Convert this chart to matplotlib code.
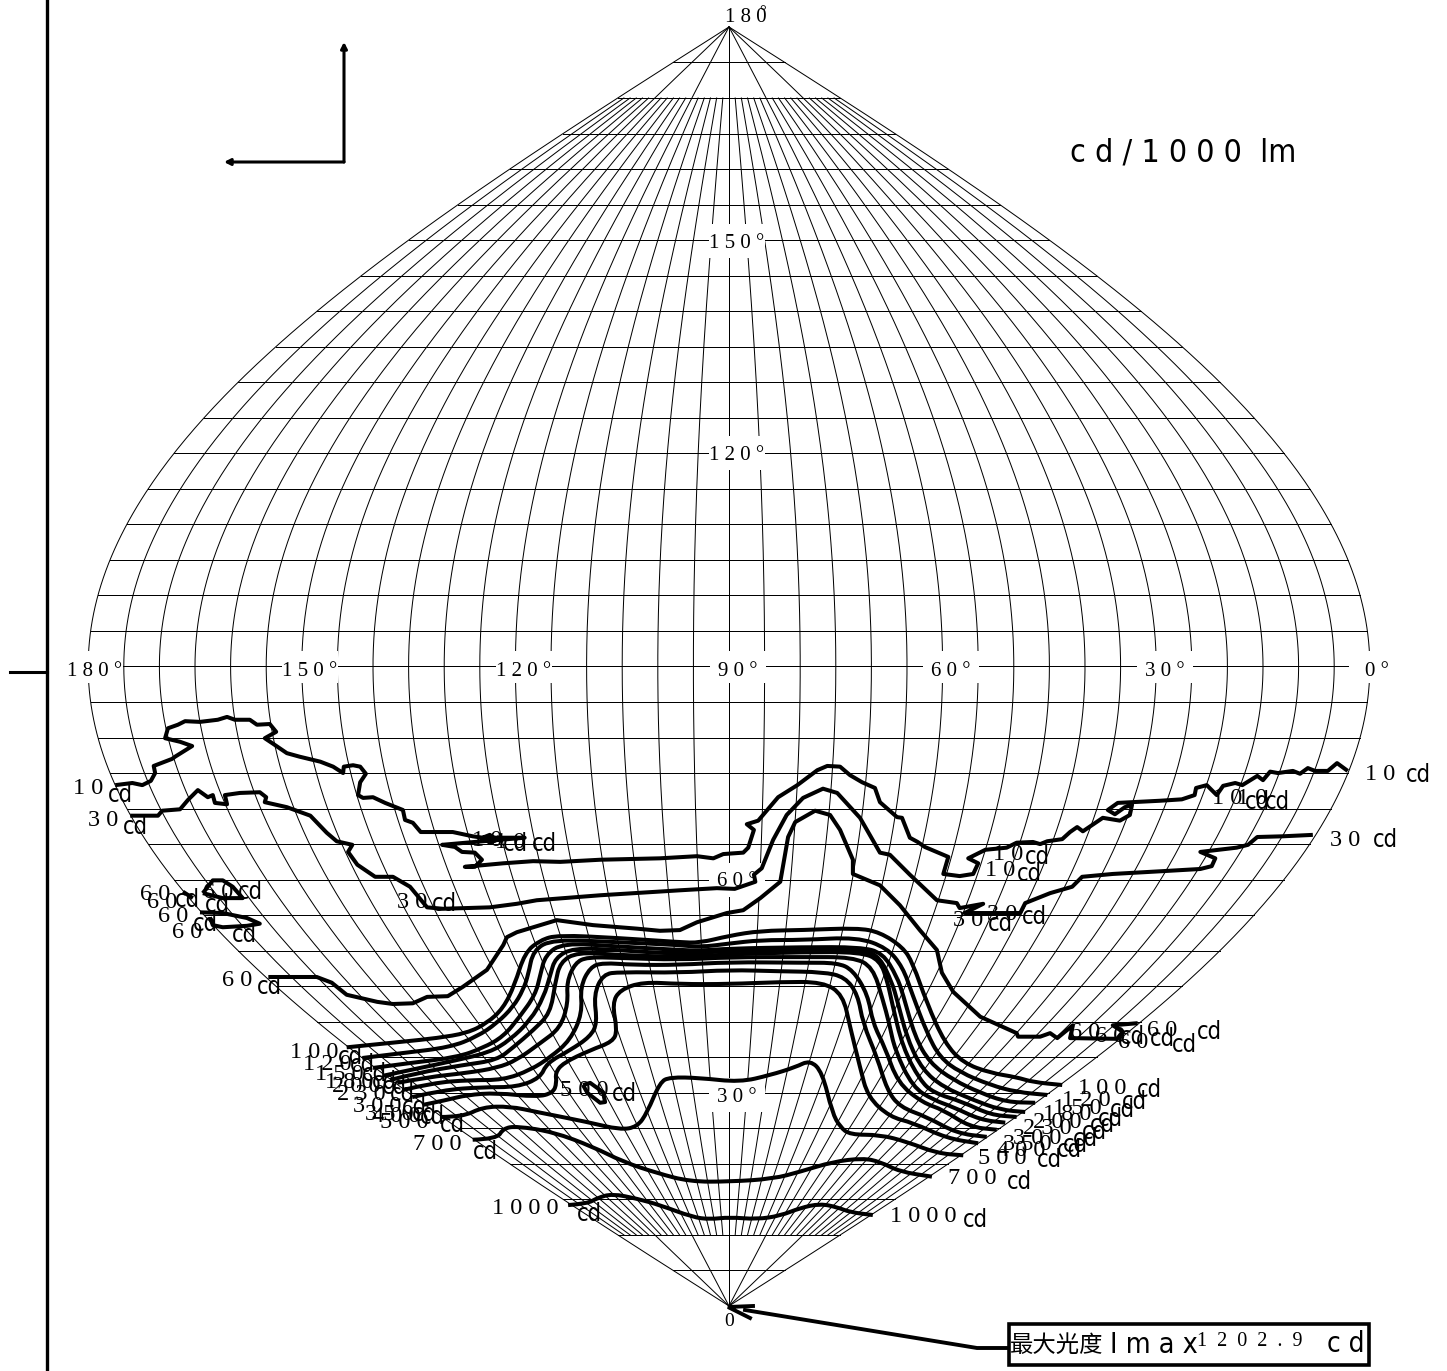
import numpy as np
import matplotlib
matplotlib.use("Agg")
import matplotlib.pyplot as plt
from matplotlib.patches import PathPatch, Rectangle
from matplotlib.path import Path
from matplotlib.transforms import Affine2D

# isocandela lines: x = map position in degrees from the
# centre meridian, g = vertical angle gamma in degrees
c10_x = [-86.2,-83.8,-82.4,-81.2,-80.6,-80.8,-78.2,-77.8,-75.4,-77.1,-79.2,-78.8,-77.4,-76.4,-74.3,-71.8,-70.5,-69.4,-67.3,-66.3,-64.5,-63.6,-65.2,-64.0,-62.1,-60.3,-57.4,-55.6,-54.2,-54.1,-52.8,-51.8,-51.0,-51.8,-52.1,-51.4,-50.0,-48.3,-45.8,-45.5,-44.4,-43.3,-38.8,-36.0,-34.6,-33.6,-32.6,-33.6,-34.6,-28.7,-34.6,-40.3,-38.5,-37.5,-35.7,-34.7,-35.7,-37.1,-31.7,-27.5,-23.7,-18.1,-9.7,-4.5,-2.2,-0.8,2.0,2.7,3.5,2.5,4.1,6.9,9.6,12.4,13.8,15.6,17.0,18.7,20.5,21.2,23.6,24.3,25.4,26.5,27.5,30.8,30.1,32.4,34.3,35.0,33.6,36.0,39.0,40.4,42.7,43.7,44.7,46.8,47.9,48.9,49.7,52.5,54.9,56.3,56.6,55.6,54.2,53.2,54.6,60.5,63.6,65.4,65.6,67.1,68.5,69.4,71.1,72.1,74.2,75.0,76.0,77.1,79.2,80.2,81.3,82.3,84.1,85.4,86.9]
c10_g = [73.3,73.6,73.3,73.9,75.0,76.0,77.0,77.3,78.8,79.4,79.9,81.3,81.8,82.3,82.2,82.5,82.9,82.5,82.5,81.8,81.9,80.8,79.9,79.1,77.8,77.3,76.6,75.9,75.0,75.9,76.1,75.9,74.9,73.7,71.9,71.5,71.6,70.8,69.8,68.4,68.0,66.7,66.7,66.1,65.9,66.3,65.6,65.2,65.9,65.9,65.4,64.9,64.6,63.9,63.8,62.8,61.8,61.8,62.3,62.6,62.5,62.8,63.0,63.3,63.0,63.6,63.8,64.5,67.0,67.8,68.3,71.6,73.3,75.4,76.0,75.9,74.7,73.7,72.9,70.9,68.8,68.7,65.9,65.3,64.6,63.2,60.8,60.5,60.8,62.3,63.0,64.2,64.5,65.2,65.3,65.0,65.4,65.7,66.7,67.4,66.8,68.7,68.3,69.1,70.5,70.2,69.2,69.8,70.8,71.1,71.3,71.9,72.9,73.3,71.9,73.2,73.6,73.3,74.6,74.0,75.2,75.0,75.3,74.9,75.7,75.3,75.3,76.4,75.3]

c30_x = [-84.1,-80.2,-79.6,-77.1,-76.0,-74.6,-73.2,-72.5,-72.2,-70.5,-70.8,-68.7,-65.9,-65.0,-65.2,-62.1,-58.8,-56.5,-55.1,-52.9,-53.5,-52.2,-49.7,-47.2,-44.8,-42.4,-40.2,-33.6,-29.8,-27.0,-18.1,-6.9,-1.7,0.8,3.7,3.5,4.6,6.2,8.1,10.4,13.2,15.2,18.4,21.2,22.6,25.4,29.2,32.0,32.4,35.7,33.1,40.9,41.6,45.1,48.2,49.6,53.9,61.0,66.2,67.8,68.3,66.2,71.3,72.9,74.2,77.8,82.0]
c30_g = [69.0,69.0,69.7,69.9,71.2,72.6,71.6,71.9,70.8,70.6,71.9,72.2,72.3,71.6,70.9,70.2,69.0,66.6,65.4,64.9,63.9,62.1,60.4,60.4,59.0,56.1,55.9,56.1,56.6,57.1,57.8,58.5,58.8,58.7,59.7,60.7,61.6,65.6,69.1,71.5,72.8,72.2,68.7,63.8,63.5,60.7,57.1,56.7,56.0,56.6,55.3,55.3,56.7,58.1,59.0,60.4,60.8,61.2,61.5,61.9,63.0,63.9,64.5,64.9,66.0,66.1,66.3]

c60_x = [-64.7,-57.9,-55.8,-53.7,-49.4,-47.2,-44.4,-42.4,-39.5,-37.4,-34.0,-31.7,-31.2,-29.8,-24.2,-19.1,-12.9,-9.7,-6.9,-4.5,-0.3,2.0,4.4,7.2,8.3,9.3,12.1,14.2,15.6,17.4,17.4,21.2,24.0,26.8,29.2,29.9,31.5,35.3,40.4,40.6,43.7,45.1,46.1,48.3,47.9,54.5,55.3,53.9,57.4]
c60_g = [46.3,46.3,45.5,43.8,42.8,42.5,42.6,43.5,43.6,44.9,47.3,50.8,51.9,52.6,54.3,53.6,53.1,52.8,52.9,54.0,55.3,55.7,57.4,59.7,66.0,68.1,69.7,69.1,67.0,62.8,60.8,59.2,56.4,52.9,50.1,46.9,44.2,40.7,38.4,37.9,37.9,38.4,37.7,39.5,37.7,37.6,38.6,39.5,39.8]
c60_loop_a_x = [-76.7,-75.3]
c60_loop_a_g = [58.3,57.4]
c60_loop_b_x = [-73.9,-72.5,-71.1,-69.7,-68.3,-71.1,-73.9]
c60_loop_b_g = [58.1,59.9,59.9,59.0,57.4,57.4,58.1]
c60_loop_c_x = [-74.3,-71.1,-67.7,-65.9,-67.7,-71.1,-72.5,-72.9]
c60_loop_c_g = [55.4,55.3,54.6,53.8,53.5,53.3,53.6,54.7]

c100_x = [-53.7,-45.8,-41.0,-36.8,-34.0,-31.7,-30.1,-28.7,-26.5,-24.0,-15.7,-6.9,-4.1,0.0,4.4,10.4,18.0,21.2,24.4,25.8,27.8,30.3,32.9,36.7,40.4,42.7,46.8]
c100_g = [36.4,37.2,37.7,38.4,39.8,41.9,45.2,49.7,51.5,52.2,51.8,51.2,51.1,52.1,52.8,52.9,53.2,52.6,50.5,48.3,42.6,37.0,34.2,32.8,32.2,31.5,31.1]
c120_x = [-51.5,-45.8,-39.2,-35.4,-32.6,-30.3,-28.9,-28.2,-27.5,-24.7,-15.7,-6.9,-4.1,0.0,4.4,10.4,18.0,22.2,24.4,25.7,27.8,29.6,32.4,36.7,40.4,44.7]
c120_g = [34.9,35.6,36.4,37.9,39.8,42.1,44.5,46.6,50.1,51.6,51.2,50.8,50.5,51.0,51.5,51.5,51.9,50.4,47.7,44.0,38.4,35.0,32.9,31.1,30.1,29.7]
c150_x = [-50.0,-44.8,-38.2,-34.6,-31.7,-29.4,-27.2,-26.5,-25.8,-23.3,-15.7,-6.9,-4.1,0.0,10.4,18.4,21.6,23.6,24.4,26.1,28.2,31.5,35.3,39.0,43.0]
c150_g = [33.5,34.2,35.0,36.3,37.9,40.7,43.8,46.6,49.4,51.1,50.6,50.1,50.0,50.3,50.5,50.5,49.7,46.3,44.0,37.9,34.2,31.8,30.0,28.7,28.6]
c180_x = [-48.6,-44.8,-38.2,-33.6,-30.8,-27.9,-26.0,-25.1,-24.4,-21.9,-15.7,-6.9,0.0,10.4,18.8,21.2,22.9,23.6,25.1,27.2,30.1,34.3,38.1,41.6]
c180_g = [32.4,33.2,34.6,35.7,37.4,40.2,43.5,46.6,49.0,50.4,50.1,49.5,50.0,50.1,50.2,49.1,45.5,43.1,37.4,33.2,30.8,29.0,27.6,27.3]
c200_x = [-47.6,-43.8,-37.4,-32.6,-30.3,-27.5,-25.1,-24.4,-23.7,-21.3,-15.7,-6.9,0.0,10.4,18.4,21.2,22.3,22.9,24.4,26.8,28.7,32.9,36.7,40.4]
c200_g = [31.8,32.8,33.9,34.6,36.4,38.8,41.2,45.5,48.4,49.8,49.4,49.1,49.5,49.8,49.8,48.7,45.5,42.6,36.4,31.8,30.0,28.7,26.9,26.6]
c230_x = [-46.6,-42.4,-36.8,-32.6,-29.8,-26.5,-23.7,-22.6,-22.8,-21.6,-19.9,-15.7,-6.9,0.0,10.4,17.4,20.2,21.6,22.5,23.3,25.8,28.7,31.5,35.3,38.8]
c230_g = [31.4,32.2,32.8,33.5,34.6,37.0,39.1,42.6,45.6,48.3,49.1,49.0,48.7,49.1,49.1,49.1,47.7,43.1,39.8,36.0,30.8,29.0,28.0,26.2,25.8]
c300_x = [-45.8,-41.6,-36.4,-31.7,-27.9,-25.1,-22.3,-20.6,-20.9,-19.5,-17.7,-13.5,-6.9,0.0,10.4,15.2,17.4,19.5,20.2,21.9,23.7,27.2,30.1,33.8,37.6]
c300_g = [30.4,31.4,31.8,31.8,33.2,35.0,37.4,41.2,44.9,47.7,48.3,48.0,48.0,48.4,48.3,48.3,47.3,43.8,39.8,36.4,31.4,28.6,27.6,25.2,24.8]
c350_x = [-44.5,-40.2,-34.6,-29.8,-26.5,-25.6,-22.3,-19.5,-18.5,-19.0,-17.7,-15.3,-6.9,0.0,7.2,13.2,16.3,18.1,18.8,20.8,22.2,24.0,27.8,32.0,36.2]
c350_g = [29.4,30.4,30.8,30.8,32.1,34.2,36.0,37.9,39.8,43.8,46.7,47.0,46.9,47.3,47.1,47.0,46.3,43.8,39.8,35.0,30.4,28.0,26.6,24.3,23.8]
c400_x = [-43.0,-39.6,-36.8,-32.6,-27.0,-24.7,-24.2,-24.4,-23.3,-19.5,-16.3,-15.7,-16.4,-15.3,-12.1,-6.9,0.0,7.2,13.2,16.0,17.0,18.4,19.5,22.6,25.8,30.6,35.0]
c400_g = [28.3,29.0,29.7,30.0,29.4,30.0,31.4,32.8,34.2,36.0,37.2,38.8,42.6,44.5,45.6,45.3,45.3,45.6,45.6,43.8,39.3,33.6,29.4,26.6,25.8,23.6,22.9]

c500_x = [-40.6,-37.4,-34.6,-30.8,-27.0,-19.9,-15.3,-12.9,-11.5,-9.7,-8.3,-4.1,1.5,5.8,9.3,11.4,13.1,14.5,15.6,17.0,21.2,25.0,29.2,32.9]
c500_g = [26.6,26.6,28.0,28.1,27.3,25.9,24.8,25.2,27.2,31.5,32.2,32.1,31.5,32.5,33.6,34.6,32.9,27.2,25.2,24.1,24.1,23.1,21.5,21.2]
c500_loop_x = [-20.5,-19.5,-17.7,-17.4,-18.1,-19.9,-20.5]
c500_loop_g = [31.1,31.4,30.1,28.7,28.6,30.0,31.1]
c700_x = [-36.0,-32.6,-31.7,-29.8,-24.7,-19.1,-14.9,-10.1,-5.5,0.1,6.2,10.0,14.6,18.8,21.2,24.0,28.5]
c700_g = [23.4,23.5,25.0,25.3,24.5,22.4,20.3,18.7,17.5,17.5,17.9,18.9,20.3,20.8,20.3,18.9,18.2]
c1000_x = [-22.6,-19.9,-18.5,-16.4,-12.9,-9.7,-5.1,-2.7,0.1,3.9,7.2,10.0,12.8,15.2,17.0,20.2]
c1000_g = [14.2,14.4,15.2,15.8,15.1,14.2,12.5,12.2,12.5,12.2,12.7,13.8,14.4,13.9,13.2,12.8]

jagged_lines = [
    (c10_x, c10_g), (c30_x, c30_g), (c60_x, c60_g),
    (c60_loop_a_x, c60_loop_a_g), (c60_loop_b_x, c60_loop_b_g), (c60_loop_c_x, c60_loop_c_g),
    (c500_loop_x, c500_loop_g),
]
smooth_lines = [
    (c100_x, c100_g), (c120_x, c120_g), (c150_x, c150_g), (c180_x, c180_g), (c200_x, c200_g),
    (c230_x, c230_g), (c300_x, c300_g), (c350_x, c350_g), (c400_x, c400_g),
    (c500_x, c500_g), (c700_x, c700_g), (c1000_x, c1000_g),
]

# number labels of the contour lines
label_text = ["1 0","3 0","6 0","6 0","6 0","6 0","6 0","6 0","3 0","1 0","1 0","5 0 0",
              "1 0 0","1 2 0","1 5 0","1 8 0","2 0 0","2 3 0","3 0 0","3 5 0","4 0 0","5 0 0","7 0 0","1 0 0 0",
              "1 0","1 0","1 0","3 0","1 0","1 0","3 0","3 0","6 0","6 0","6 0","6 0",
              "1 0 0","1 2 0","1 5 0","1 8 0","2 0 0","2 3 0","3 0 0","3 5 0","4 0 0","5 0 0","7 0 0","1 0 0 0"]

W, H = 1447, 1371

fig = plt.figure(figsize=(W / 100, H / 100), dpi=100)
ax = fig.add_axes([0, 0, 1, 1])
ax.set_xlim(-729 / 7.12, (W - 729) / 7.12)
ax.set_ylim((1306 - H) / 7.106, 1306 / 7.106)
ax.axis('off')

# pixel transform for the annotations around the chart
pix = Affine2D().scale(1 / W, -1 / H).translate(0, 1) + fig.transFigure

SERIF = ['Liberation Serif', 'DejaVu Serif']
NARROW = ['DejaVu Sans']


def put(px, py, s, size=17.5, family=SERIF, zorder=6, ha='left', stretch='normal'):
    ax.text(px, py + 2, s, transform=pix, fontsize=size, family=family, fontstretch=stretch,
            ha=ha, va='center', color='black', zorder=zorder)


def smooth_path(xs, gs):
    # quadratic segments through the midpoints, so the read points stay as they are
    pts = np.column_stack([xs, gs])
    verts = [pts[0]]
    codes = [Path.MOVETO]
    for i in range(1, len(pts) - 1):
        verts += [pts[i], (pts[i] + pts[i + 1]) / 2]
        codes += [Path.CURVE3, Path.CURVE3]
    verts.append(pts[-1])
    codes.append(Path.LINETO)
    return Path(verts, codes)


# grid: parallels and meridians
gamma = np.linspace(0, 180, 361)
for c in range(0, 181, 5):
    g = gamma if c % 30 == 0 else gamma[(gamma >= 10) & (gamma <= 170)]
    ax.plot((90 - c) * np.sin(np.radians(g)), g, color='black', lw=0.72, zorder=1)
for p in range(5, 180, 5):
    half = 90 * np.sin(np.radians(p))
    ax.plot([-half, half], [p, p], color='black', lw=0.72, zorder=1)

# angle labels on white patches
for cx, s in zip([95, 310, 524, 738, 951, 1165, 1377],
                 ["1 8 0 °", "1 5 0 °", "1 2 0 °", "9 0 °", "6 0 °", "3 0 °", "0 °"]):
    ax.add_patch(Rectangle((cx - 28, 651), 56, 32, transform=pix, fc='white', ec='none', zorder=2))
    put(cx, 669, s, size=15, zorder=3, ha='center')
for cy, s in zip([241, 453, 880, 1095], ["1 5 0 °", "1 2 0 °", "6 0 °", "3 0 °"]):
    ax.add_patch(Rectangle((709, cy - 17), 56, 34, transform=pix, fc='white', ec='none', zorder=2))
    put(737, cy, s, size=15, zorder=3, ha='center')
put(746, 15, "1 8 0", size=15, ha='center')
put(763, 10, "°", size=12, ha='center')
put(729, 1320, "0", size=14, ha='center')

for xs, gs in jagged_lines:
    ax.plot(xs, gs, color='black', lw=2.9, solid_joinstyle='round', solid_capstyle='butt', zorder=4)
for xs, gs in smooth_lines:
    ax.add_patch(PathPatch(smooth_path(xs, gs), fc='none', ec='black', lw=2.9, capstyle='butt', zorder=4))

# contour labels: number position, then cd position
num_pos = [(73,787),(88,818),(140,893),(147,900),(158,915),(172,930),(203,890),(222,978),(397,900),(472,838),(495,840),(560,1088),
           (290,1050),(303,1063),(315,1072),(325,1080),(332,1085),(337,1092),(353,1105),(365,1112),(372,1115),(380,1120),(413,1142),(492,1207),
           (1365,773),(1212,797),(1237,797),(1330,838),(993,852),(985,868),(953,918),(987,913),(1147,1028),(1118,1040),(1095,1035),(1070,1030),
           (1078,1087),(1062,1098),(1053,1107),(1043,1113),(1033,1120),(1023,1127),(1013,1137),(1003,1143),(997,1148),(978,1157),(948,1177),(890,1215)]
cd_pos = [(108,793),(123,825),(175,898),(205,903),(193,922),(232,933),(238,890),(257,985),(432,902),(503,842),(532,842),(612,1092),
          (338,1055),(350,1063),(362,1072),(372,1080),(382,1085),(390,1092),(402,1105),(412,1112),(420,1115),(440,1123),(473,1150),(577,1212),
          (1406,773),(1245,800),(1265,800),(1373,838),(1025,855),(1017,872),(988,922),(1022,915),(1197,1030),(1172,1043),(1150,1037),(1120,1035),
          (1137,1088),(1122,1100),(1110,1108),(1098,1117),(1090,1123),(1082,1130),(1073,1137),(1063,1143),(1057,1148),(1037,1158),(1007,1180),(963,1218)]
for s, (a, b), (c, d) in zip(label_text, num_pos, cd_pos):
    put(a, b, s)
    put(c, d, "cd", size=17, family=NARROW, stretch='condensed')

# unit note
put(1070, 151, "c d / 1 0 0 0  lm", size=23, family=NARROW, stretch='condensed')

# left axis line and tick
ax.plot([47, 47], [0, H], transform=pix, color='black', lw=2.4, zorder=5)
ax.plot([10, 47], [672, 672], transform=pix, color='black', lw=2.2, zorder=5)

# C-plane direction arrows
for tip in [(344, 42), (224, 162)]:
    ax.annotate("", xy=tip, xytext=(344, 162), xycoords=pix, textcoords=pix,
                arrowprops=dict(arrowstyle='-|>,head_length=0.35,head_width=0.18', color='black',
                                lw=2.2, shrinkA=0, shrinkB=0))

# Imax call-out
ax.plot([1009, 977, 745], [1348, 1348, 1310], transform=pix, color='black', lw=2.8, zorder=5,
        solid_joinstyle='round')
ax.plot([753, 728, 750], [1306, 1307, 1318], transform=pix, color='black', lw=2.8, zorder=5,
        solid_joinstyle='miter')
ax.add_patch(Rectangle((1009, 1324), 360, 41, transform=pix, fc='white', ec='black', lw=2.6, zorder=5))
put(1010, 1343, "最大光度", size=16.8, family=['Noto Sans CJK SC', 'DejaVu Sans'])
put(1110, 1343, "I m a x", size=20.5, family=NARROW, stretch='condensed')
put(1197, 1340, "1  2  0  2  .  9", size=14.5)
put(1327, 1342, "c d", size=20, family=NARROW, stretch='condensed')

fig.savefig("out.png", dpi=100, facecolor='white')
